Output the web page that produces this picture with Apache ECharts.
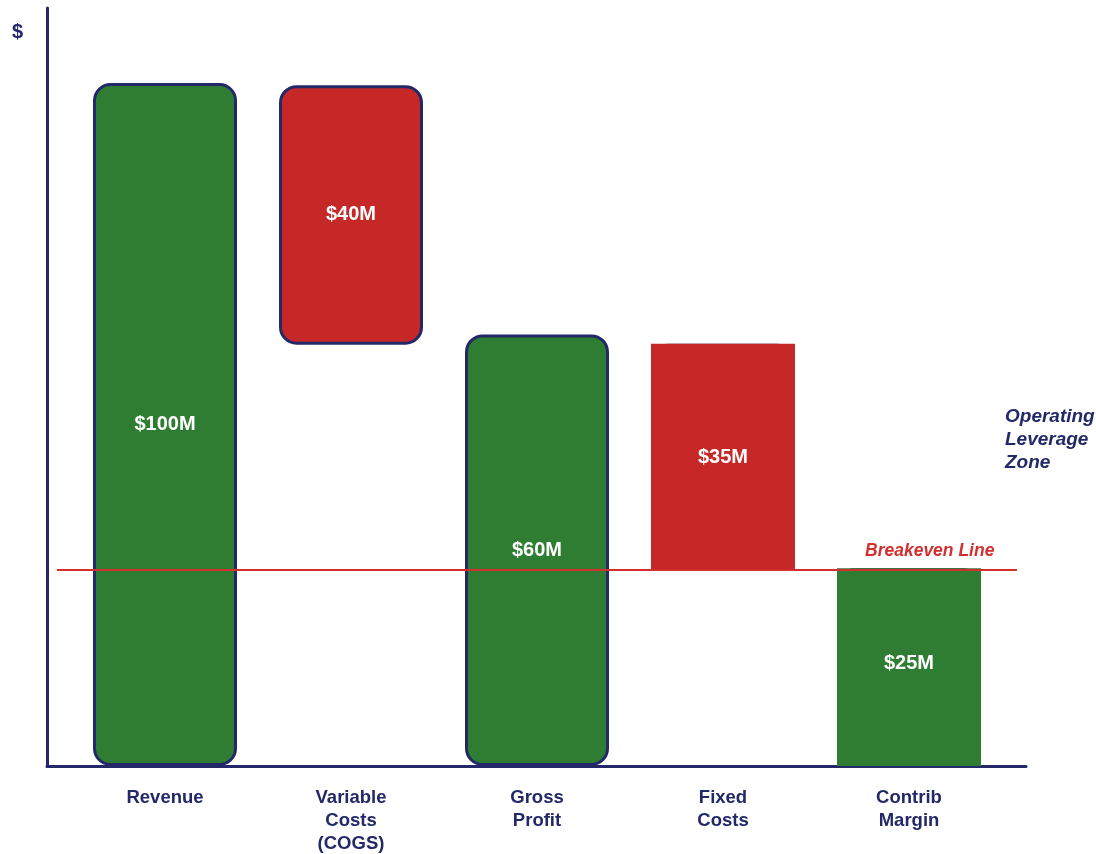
<!DOCTYPE html>
<html>
<head>
<meta charset="utf-8">
<script src="https://cdn.jsdelivr.net/npm/echarts@6/dist/echarts.min.js"></script>
<style>
html,body{margin:0;padding:0;background:#fff;}
#c{width:1096px;height:854px;}
</style>
</head>
<body>
<div id="c"></div>
<script>
var categories = ['Revenue', 'Variable\nCosts\n(COGS)', 'Gross\nProfit', 'Fixed\nCosts', 'Contrib\nMargin'];
var barBase = [0, 61.7, 0, 28.65, 0];
var barValue = [100, 38, 63.2, 33.2, 28.95];
var barKind = ['gain', 'loss', 'gain', 'loss', 'gain'];
var valueLabels = ['$100M', '$40M', '$60M', '$35M', '$25M'];
var squareOverlay = [false, false, false, true, true];
var breakeven = 28.8;
var yMax = 111;

var NAVY = '#222868', GREEN = '#2f7d33', RED = '#c62828', LINE_RED = '#d32f2f';
var FONT = '"Liberation Sans", Arial, Helvetica, sans-serif';

var chart = echarts.init(document.getElementById('c'), null, {renderer: 'canvas'});

var valueData = barValue.map(function (v, i) {
  return {
    value: v,
    itemStyle: {color: barKind[i] === 'gain' ? GREEN : RED},
    label: {show: !squareOverlay[i], formatter: valueLabels[i]}
  };
});
var overlayBase = barBase.map(function (b, i) { return squareOverlay[i] ? b : '-'; });
var overlayData = barValue.map(function (v, i) {
  return squareOverlay[i] ? {
    value: v,
    itemStyle: {color: barKind[i] === 'gain' ? GREEN : RED},
    label: {show: true, formatter: valueLabels[i], offset: i === 4 ? [0, -4] : [0, 0]}
  } : '-';
});

var labelStyle = {position: 'inside', color: '#fff', fontWeight: 'bold', fontSize: 20, fontFamily: FONT};

chart.setOption({
  animation: false,
  backgroundColor: '#fff',
  grid: [
    {left: 72, right: 94, top: 8, bottom: 88, outerBoundsMode: 'none', containLabel: false},
    {left: 47, right: 70, top: 8, bottom: 88, outerBoundsMode: 'none', containLabel: false}
  ],
  xAxis: [
    {type: 'category', gridIndex: 0, data: categories,
     axisLine: {show: false}, axisTick: {show: false},
     axisLabel: {color: NAVY, fontWeight: 'bold', fontSize: 18.5, fontFamily: FONT, lineHeight: 23, margin: 20, interval: 0}},
    {type: 'value', gridIndex: 1, min: 0, max: 1,
     axisLine: {show: true, lineStyle: {color: NAVY, width: 3}},
     axisTick: {show: false}, axisLabel: {show: false}, splitLine: {show: false}}
  ],
  yAxis: [
    {type: 'value', gridIndex: 0, min: 0, max: yMax, show: false, splitLine: {show: false}},
    {type: 'value', gridIndex: 1, min: 0, max: yMax,
     axisLine: {show: true, lineStyle: {color: NAVY, width: 3}},
     axisTick: {show: false}, axisLabel: {show: false}, splitLine: {show: false}}
  ],
  series: [
    {type: 'bar', stack: 'w', xAxisIndex: 0, yAxisIndex: 0, barWidth: 144, barGap: '-100%',
     itemStyle: {color: 'transparent'}, data: barBase, silent: true},
    {type: 'bar', stack: 'w', xAxisIndex: 0, yAxisIndex: 0, barWidth: 144, barGap: '-100%',
     itemStyle: {borderColor: NAVY, borderWidth: 3, borderRadius: 16},
     label: labelStyle, data: valueData},
    {type: 'bar', stack: 'o', xAxisIndex: 0, yAxisIndex: 0, barWidth: 144, barGap: '-100%',
     itemStyle: {color: 'transparent'}, data: overlayBase, silent: true},
    {type: 'bar', stack: 'o', xAxisIndex: 0, yAxisIndex: 0, barWidth: 144, barGap: '-100%',
     itemStyle: {borderWidth: 0}, label: labelStyle, data: overlayData},
    {type: 'line', xAxisIndex: 1, yAxisIndex: 1, data: [], z: 10,
     markLine: {
       silent: true, symbol: 'none', label: {show: false},
       lineStyle: {color: LINE_RED, width: 2, type: 'solid'},
       data: [[{coord: [0.0102, breakeven]}, {coord: [0.9908, breakeven]}]]
     }}
  ],
  graphic: [
    {type: 'text', left: 12, top: 22, z: 20,
     style: {text: '$', fill: NAVY, font: 'bold 20px ' + FONT}},
    {type: 'text', left: 1005, top: 405, z: 20,
     style: {text: 'Operating\nLeverage\nZone', fill: NAVY, font: 'italic bold 19px ' + FONT, lineHeight: 23}},
    {type: 'text', left: 865, top: 542, z: 20,
     style: {text: 'Breakeven Line', fill: LINE_RED, font: 'italic bold 17.5px ' + FONT}}
  ]
});
</script>
</body>
</html>
